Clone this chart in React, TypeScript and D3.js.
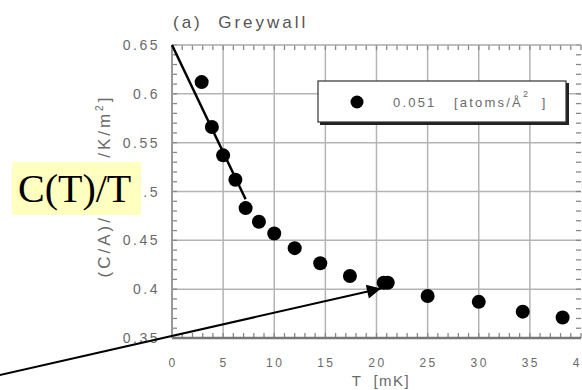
import { useEffect, useRef } from 'react';
import * as d3 from 'd3';

// measured points, T in mK, (C/A)/T
const tempValues = [2.9, 3.9, 5.0, 6.2, 7.2, 8.5, 10.0, 12.0, 14.5, 17.4, 20.7, 21.1, 25.0, 30.0, 34.3, 38.2];
const cOverTValues = [0.612, 0.566, 0.537, 0.512, 0.483, 0.469, 0.457, 0.442, 0.4265, 0.4135, 0.4066, 0.4066, 0.393, 0.387, 0.377, 0.371];

// linear fit at low T
const fitT = [0, 7.2];
const fitC = [0.65, 0.492];

const xTicks = [0, 5, 10, 15, 20, 25, 30, 35, 40];
const xTickLabels = ['0', '5', '10', '15', '20', '25', '30', '35', '40'];
const yTicks = [0.35, 0.4, 0.45, 0.5, 0.55, 0.6, 0.65];
const yTickLabels = ['0.35', '0.4', '0.45', '.5', '0.55', '0.6', '0.65'];

const App = () => {
  const svgRef = useRef<SVGSVGElement>(null);

  useEffect(() => {
    const svg = d3.select(svgRef.current);
    svg.selectAll('*').remove();

    const x = d3.scaleLinear().domain([0, 40]).range([172, 581]);
    const y = d3.scaleLinear().domain([0.35, 0.65]).range([338, 45]);
    const grey = '#6a6a6a';
    const font = 'Liberation Sans, Arial, sans-serif';

    // grid
    svg.append('g')
      .selectAll('line.gx')
      .data(xTicks.slice(1, -1))
      .enter()
      .append('line')
      .attr('x1', d => x(d)).attr('x2', d => x(d))
      .attr('y1', y(0.35)).attr('y2', y(0.65))
      .attr('stroke', '#b4b4b4')
      .attr('stroke-width', 1.5);
    svg.append('g')
      .selectAll('line.gy')
      .data(yTicks.slice(1, -1))
      .enter()
      .append('line')
      .attr('x1', x(0)).attr('x2', x(40))
      .attr('y1', d => y(d)).attr('y2', d => y(d))
      .attr('stroke', '#b4b4b4')
      .attr('stroke-width', 1.5);

    // minor ticks
    const minorX = d3.range(0, 41, 1);
    const minorY = d3.range(35, 66, 1).map(v => v / 100);
    const ticksG = svg.append('g').attr('stroke', '#888').attr('stroke-width', 1.3);
    minorX.forEach(t => {
      ticksG.append('line').attr('x1', x(t)).attr('x2', x(t)).attr('y1', y(0.35)).attr('y2', y(0.35) - 5);
      ticksG.append('line').attr('x1', x(t)).attr('x2', x(t)).attr('y1', y(0.65)).attr('y2', y(0.65) + 5);
    });
    minorY.forEach(t => {
      ticksG.append('line').attr('x1', x(0)).attr('x2', x(0) + 5).attr('y1', y(t)).attr('y2', y(t));
      ticksG.append('line').attr('x1', x(40)).attr('x2', x(40) - 5).attr('y1', y(t)).attr('y2', y(t));
    });

    // frame
    svg.append('line')
      .attr('x1', x(0)).attr('x2', x(40)).attr('y1', y(0.35)).attr('y2', y(0.35))
      .attr('stroke', '#777').attr('stroke-width', 2.5);
    svg.append('line')
      .attr('x1', x(0)).attr('x2', x(0)).attr('y1', y(0.35)).attr('y2', y(0.65))
      .attr('stroke', '#999').attr('stroke-width', 2);
    svg.append('line')
      .attr('x1', x(0)).attr('x2', x(40)).attr('y1', y(0.65)).attr('y2', y(0.65))
      .attr('stroke', '#aaa').attr('stroke-width', 1.5);

    // tick labels
    svg.append('g')
      .selectAll('text')
      .data(xTicks)
      .enter()
      .append('text')
      .attr('x', d => x(d) + 1)
      .attr('y', 367)
      .attr('text-anchor', 'middle')
      .style('font-family', font)
      .style('font-size', '12px')
      .style('letter-spacing', '2.5px')
      .style('fill', grey)
      .text((d, i) => xTickLabels[i]);
    svg.append('g')
      .selectAll('text')
      .data(yTicks)
      .enter()
      .append('text')
      .attr('x', 160)
      .attr('y', d => y(d) + 5)
      .attr('text-anchor', 'end')
      .style('font-family', font)
      .style('font-size', '14px')
      .style('letter-spacing', '2.5px')
      .style('fill', grey)
      .text((d, i) => yTickLabels[i]);

    // axis titles
    svg.append('text')
      .attr('x', 381)
      .attr('y', 386)
      .attr('text-anchor', 'middle')
      .style('font-family', font)
      .style('font-size', '15px')
      .style('letter-spacing', '1.5px')
      .style('white-space', 'pre')
      .style('fill', grey)
      .text('T  [mK]');
    const yl = svg.append('text')
      .attr('transform', 'translate(110,186) rotate(-90)')
      .attr('text-anchor', 'middle')
      .style('font-family', font)
      .style('font-size', '17px')
      .style('letter-spacing', '3px')
      .style('white-space', 'pre')
      .style('fill', grey);
    yl.append('tspan').text('(C/A)/T [mJ/K/m');
    yl.append('tspan').attr('dy', -7).style('font-size', '10px').text('2');
    yl.append('tspan').attr('dy', 7).text(']');

    svg.append('text')
      .attr('x', 173)
      .attr('y', 28)
      .style('font-family', font)
      .style('font-size', '17px')
      .style('letter-spacing', '3px')
      .style('white-space', 'pre')
      .style('fill', '#555')
      .text('(a)  Greywall');

    // fit line
    const line = d3.line<number>()
      .x(d => x(d))
      .y((d, i) => y(fitC[i]));
    svg.append('path')
      .attr('d', line(fitT))
      .attr('fill', 'none')
      .attr('stroke', '#000')
      .attr('stroke-width', 2.5);

    // points
    svg.append('g')
      .selectAll('circle')
      .data(tempValues)
      .enter()
      .append('circle')
      .attr('cx', d => x(d))
      .attr('cy', (d, i) => y(cOverTValues[i]))
      .attr('r', 7)
      .attr('fill', '#000');

    // legend
    const lg = svg.append('g');
    lg.append('rect')
      .attr('x', 320).attr('y', 83).attr('width', 249).attr('height', 42)
      .attr('fill', '#222');
    lg.append('rect')
      .attr('x', 318).attr('y', 81).attr('width', 248).attr('height', 41)
      .attr('fill', '#fff').attr('stroke', '#333').attr('stroke-width', 1.2);
    lg.append('circle').attr('cx', 357).attr('cy', 102).attr('r', 6.5).attr('fill', '#000');
    const lt = lg.append('text')
      .attr('x', 393).attr('y', 107)
      .style('font-family', font)
      .style('font-size', '13px')
      .style('letter-spacing', '2.2px')
      .style('white-space', 'pre')
      .style('fill', grey);
    lt.append('tspan').text('0.051   [atoms/Å');
    lt.append('tspan').attr('dy', -10).style('font-size', '9px').text('2');
    lt.append('tspan').attr('dy', 10).text('  ]');

    // annotation
    svg.append('rect')
      .attr('x', 12).attr('y', 162).attr('width', 129).attr('height', 53)
      .attr('fill', '#ffffc0');
    svg.append('text')
      .attr('x', 18).attr('y', 202)
      .style('font-family', 'Liberation Serif, Times New Roman, serif')
      .style('font-size', '40px')
      .style('fill', '#000')
      .text('C(T)/T');

    svg.append('defs').append('marker')
      .attr('id', 'arrowHead')
      .attr('viewBox', '0 0 10 10')
      .attr('refX', 10).attr('refY', 5)
      .attr('markerWidth', 9).attr('markerHeight', 7)
      .attr('markerUnits', 'strokeWidth')
      .attr('orient', 'auto')
      .append('path')
      .attr('d', 'M0,0 L10,5 L0,10 z')
      .attr('fill', '#000');
    svg.append('line')
      .attr('x1', -2).attr('y1', 375.5)
      .attr('x2', 381).attr('y2', 288.5)
      .attr('stroke', '#000')
      .attr('stroke-width', 2)
      .attr('marker-end', 'url(#arrowHead)');
  }, []);

  return (
    <svg
      ref={svgRef}
      width={582}
      height={390}
      style={{ position: 'absolute', left: 0, top: 0, background: '#fff' }}
    />
  );
};

export default App;
